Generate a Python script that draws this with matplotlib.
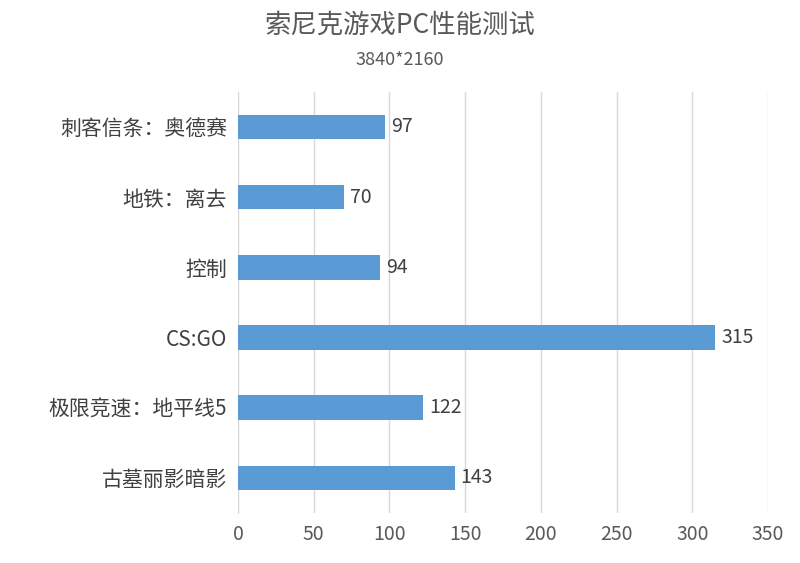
import matplotlib
matplotlib.use("Agg")
import matplotlib.pyplot as plt

plt.rcParams['font.family'] = ['Noto Sans CJK SC', 'DejaVu Sans']

games = ["刺客信条：奥德赛", "地铁：离去", "控制", "CS:GO", "极限竞速：地平线5", "古墓丽影暗影"]
fps = [97, 70, 94, 315, 122, 143]
xticks = [0, 50, 100, 150, 200, 250, 300, 350]

fig = plt.figure(figsize=(8, 5.63), dpi=100)
ax = fig.add_axes([0.2975, 0.089, 0.6625, 0.748])
y = list(range(len(games)))[::-1]
ax.barh(y, fps, height=0.35, color="#5b9bd5", zorder=3)
for yi, v in zip(y, fps):
    ax.text(v + 4, yi, str(v), va="center", ha="left", fontsize=14, color="#404040")
ax.set_yticks(y)
ax.set_yticklabels(games, fontsize=15, color="#404040")
ax.set_xticks(xticks)
ax.set_xticklabels([str(t) for t in xticks], fontsize=14, color="#595959")
ax.set_xlim(0, 350)
ax.set_ylim(-0.5, len(games) - 0.5)
ax.grid(axis="x", color="#d9d9d9", linewidth=1, zorder=0)
for s in ["top", "right", "bottom"]:
    ax.spines[s].set_visible(False)
ax.spines["left"].set_color("#d9d9d9")
ax.tick_params(length=0, pad=8)
fig.text(0.5, 0.955, "索尼克游戏PC性能测试", ha="center", va="center", fontsize=19, color="#595959")
fig.text(0.5, 0.893, "3840*2160", ha="center", va="center", fontsize=13, color="#595959")
fig.savefig("out.png")
